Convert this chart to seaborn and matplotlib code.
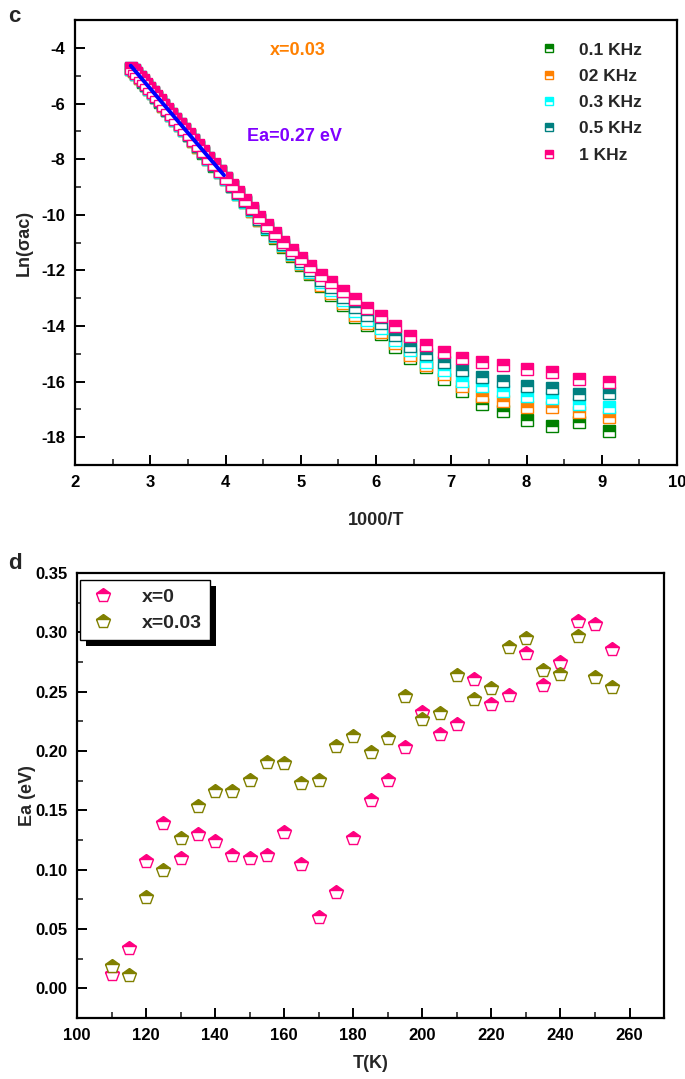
import numpy as np
import pandas as pd
import matplotlib
matplotlib.use("Agg")
import matplotlib.pyplot as plt
import seaborn as sns
from matplotlib.patches import Rectangle
from matplotlib.ticker import MultipleLocator, FormatStrFormatter

sns.set_theme(style="white")
plt.rcParams['font.family'] = ['Liberation Sans', 'DejaVu Sans']
plt.rcParams['font.weight'] = 'bold'
plt.rcParams['axes.labelweight'] = 'bold'
plt.rcParams['axes.unicode_minus'] = False

# --- panel c: ln(sigma_ac) vs 1000/T ---
temps_c = [110, 115, 120, 125, 130, 135, 140, 145, 150, 155, 160, 165, 170,
           175, 180, 185, 190, 195, 200, 205, 210, 215, 220, 225, 230, 235,
           240, 245, 250, 255, 260, 265, 270, 275, 280, 285, 290, 295, 300,
           305, 310, 315, 320, 325, 330, 335, 340, 345, 350, 355, 360, 365]

ln_01khz = [-17.78, -17.46, -17.61, -17.39, -17.07, -16.82, -16.35, -15.92, -15.49, -15.14,
            -14.74, -14.28, -13.95, -13.67, -13.24, -12.88, -12.56, -12.13, -11.82, -11.49,
            -11.16, -10.82, -10.50, -10.20, -9.86, -9.55, -9.26, -8.98, -8.71, -8.47,
            -8.23, -8.00, -7.77, -7.56, -7.35, -7.15, -6.96, -6.78, -6.60, -6.42,
            -6.25, -6.09, -5.93, -5.78, -5.63, -5.49, -5.35, -5.21, -5.08, -4.95,
            -4.83, -4.77]
ln_02khz = [-17.28, -17.10, -16.93, -16.93, -16.71, -16.50, -16.17, -15.74, -15.42, -15.03,
            -14.60, -14.20, -13.88, -13.60, -13.17, -12.81, -12.52, -12.09, -11.78, -11.46,
            -11.13, -10.80, -10.48, -10.18, -9.85, -9.54, -9.25, -8.97, -8.70, -8.46,
            -8.22, -7.99, -7.76, -7.55, -7.34, -7.14, -6.95, -6.77, -6.59, -6.41,
            -6.24, -6.08, -5.92, -5.77, -5.62, -5.48, -5.34, -5.20, -5.07, -4.94,
            -4.82, -4.76]
ln_03khz = [-16.93, -16.82, -16.60, -16.53, -16.35, -16.17, -15.99, -15.60, -15.28, -14.88,
            -14.49, -14.06, -13.77, -13.45, -13.06, -12.70, -12.41, -12.06, -11.74, -11.42,
            -11.10, -10.77, -10.46, -10.16, -9.83, -9.53, -9.24, -8.96, -8.70, -8.45,
            -8.21, -7.98, -7.75, -7.54, -7.33, -7.13, -6.94, -6.76, -6.58, -6.40,
            -6.23, -6.07, -5.91, -5.76, -5.61, -5.47, -5.33, -5.19, -5.06, -4.93,
            -4.81, -4.75]
ln_05khz = [-16.42, -16.46, -16.24, -16.14, -15.99, -15.82, -15.60, -15.28, -14.99, -14.71,
            -14.31, -13.88, -13.60, -13.31, -12.95, -12.59, -12.34, -11.98, -11.68, -11.37,
            -11.06, -10.73, -10.43, -10.14, -9.81, -9.51, -9.23, -8.95, -8.69, -8.44,
            -8.20, -7.97, -7.74, -7.53, -7.32, -7.12, -6.93, -6.75, -6.57, -6.39,
            -6.22, -6.06, -5.90, -5.75, -5.60, -5.46, -5.32, -5.18, -5.05, -4.92,
            -4.80, -4.74]
ln_1khz = [-16.03, -15.89, -15.67, -15.56, -15.42, -15.31, -15.14, -14.92, -14.69, -14.36,
           -13.99, -13.63, -13.34, -13.02, -12.74, -12.41, -12.16, -11.84, -11.55, -11.27,
           -10.98, -10.66, -10.37, -10.09, -9.77, -9.48, -9.20, -8.93, -8.67, -8.42,
           -8.18, -7.95, -7.72, -7.51, -7.30, -7.10, -6.91, -6.73, -6.55, -6.37,
           -6.20, -6.04, -5.88, -5.73, -5.58, -5.44, -5.30, -5.16, -5.03, -4.90,
           -4.78, -4.72]

freq_labels = ["0.1 KHz", "02 KHz", "0.3 KHz", "0.5 KHz", "1 KHz"]
freq_colors = ["#008000", "#FF8000", "#00FFFF", "#008080", "#FF0080"]

# Arrhenius fit line (Ea = 0.27 eV)
fit_x = [2.74, 3.98]
fit_y = [-4.64, -8.58]

# --- panel d: Ea vs T ---
temps_d = [110, 115, 120, 125, 130, 135, 140, 145, 150, 155, 160, 165, 170, 175, 180,
           185, 190, 195, 200, 205, 210, 215, 220, 225, 230, 235, 240, 245, 250, 255]
ea_x0 = [0.012, 0.034, 0.107, 0.139, 0.110, 0.130, 0.124, 0.112, 0.110, 0.112,
         0.132, 0.105, 0.060, 0.081, 0.127, 0.159, 0.176, 0.203, 0.233, 0.214,
         0.223, 0.261, 0.240, 0.247, 0.283, 0.256, 0.275, 0.310, 0.307, 0.286]
ea_x003 = [0.019, 0.011, 0.077, 0.100, 0.127, 0.154, 0.166, 0.166, 0.176, 0.191,
           0.190, 0.173, 0.176, 0.204, 0.213, 0.199, 0.211, 0.246, 0.227, 0.232,
           0.264, 0.244, 0.253, 0.288, 0.295, 0.268, 0.265, 0.297, 0.262, 0.254]

inv_t = 1000.0 / np.array(temps_c)
df_c = pd.DataFrame({"invT": inv_t, "0.1 KHz": ln_01khz, "02 KHz": ln_02khz,
                     "0.3 KHz": ln_03khz, "0.5 KHz": ln_05khz, "1 KHz": ln_1khz})

fig = plt.figure(figsize=(6.85, 10.79), dpi=100)
ax1 = fig.add_axes([0.1095, 0.569, 0.879, 0.4124])
ax2 = fig.add_axes([0.1124, 0.0565, 0.857, 0.4124])

for lab, col in zip(freq_labels, freq_colors):
    sns.lineplot(data=df_c, x="invT", y=lab, ax=ax1, color=col, linestyle="",
                 marker="s", markersize=8, fillstyle="top",
                 markerfacecoloralt="white", markeredgecolor=col,
                 markeredgewidth=1.0, label=lab)

sns.lineplot(x=fit_x, y=fit_y, ax=ax1, color="#0000FF", linewidth=2.8, legend=False)

ax1.text(4.96, -4.1, "x=0.03", color="#FF8000", fontsize=13, fontweight="bold",
         ha="center", va="center")
ax1.text(4.92, -7.2, "Ea=0.27 eV", color="#8000FF", fontsize=13, fontweight="bold",
         ha="center", va="center")

ax1.set_xlim(2, 10)
ax1.set_ylim(-19, -3)
ax1.xaxis.set_major_locator(MultipleLocator(1))
ax1.xaxis.set_minor_locator(MultipleLocator(0.5))
ax1.set_yticks(np.arange(-18, -3, 2))
ax1.yaxis.set_minor_locator(MultipleLocator(1))
ax1.set_xlabel("1000/T", fontsize=13, labelpad=16)
ax1.set_ylabel("Ln(σac)", fontsize=13, labelpad=6)
leg1 = ax1.legend(loc="upper left", bbox_to_anchor=(0.747, 0.985), frameon=False,
                  prop={"weight": "bold", "size": 12.5}, handlelength=1.0,
                  handletextpad=1.2, labelspacing=0.64, markerscale=0.8)

# panel d
sns.lineplot(x=temps_d, y=ea_x0, ax=ax2, color="#FF0080", linestyle="", marker="p",
             markersize=10, fillstyle="top", markerfacecoloralt="white",
             markeredgecolor="#FF0080", markeredgewidth=1.0, label="x=0")
sns.lineplot(x=temps_d, y=ea_x003, ax=ax2, color="#808000", linestyle="", marker="p",
             markersize=10, fillstyle="top", markerfacecoloralt="white",
             markeredgecolor="#808000", markeredgewidth=1.0, label="x=0.03")

ax2.set_xlim(100, 270)
ax2.set_ylim(-0.025, 0.35)
ax2.xaxis.set_major_locator(MultipleLocator(20))
ax2.xaxis.set_minor_locator(MultipleLocator(10))
ax2.set_yticks(np.arange(0, 0.351, 0.05))
ax2.yaxis.set_minor_locator(MultipleLocator(0.025))
ax2.yaxis.set_major_formatter(FormatStrFormatter("%.2f"))
ax2.set_xlabel("T(K)", fontsize=13, labelpad=9)
ax2.set_ylabel("Ea (eV)", fontsize=13, labelpad=-1)
leg2 = ax2.legend(loc="upper left", bbox_to_anchor=(0.005, 0.984), frameon=True,
                  fancybox=False, edgecolor="black", framealpha=1, borderaxespad=0,
                  prop={"weight": "bold", "size": 14}, handlelength=1.6,
                  handletextpad=1.2, labelspacing=0.45, borderpad=0.4)
leg2.get_frame().set_linewidth(1.0)

for ax in (ax1, ax2):
    for sp in ax.spines.values():
        sp.set_visible(True)
        sp.set_color("black")
        sp.set_linewidth(1.6)
    ax.tick_params(which="major", direction="in", length=7, width=1.4,
                   labelsize=12, colors="black", pad=7,
                   bottom=True, left=True, top=False, right=False)
    ax.tick_params(which="minor", direction="in", length=4, width=1.2,
                   bottom=True, left=True, top=False, right=False)
    for t in ax.get_xticklabels() + ax.get_yticklabels():
        t.set_fontweight("bold")
    ax.grid(False)

fig.text(0.012, 0.985, "c", fontsize=16, fontweight="bold", va="center")
fig.text(0.012, 0.478, "d", fontsize=16, fontweight="bold", va="center")

# solid black shadow behind the panel d legend
fig.canvas.draw()
bb = leg2.get_frame().get_window_extent().transformed(ax2.transAxes.inverted())
dx = 6 / (0.857 * 685)
dy = 6 / (0.4124 * 1079)
shadow = Rectangle((bb.x0 + dx, bb.y0 - dy), bb.width, bb.height, transform=ax2.transAxes,
                   facecolor="black", edgecolor="none", zorder=4.9, clip_on=False)
ax2.add_patch(shadow)

fig.savefig("out.png", dpi=100)
